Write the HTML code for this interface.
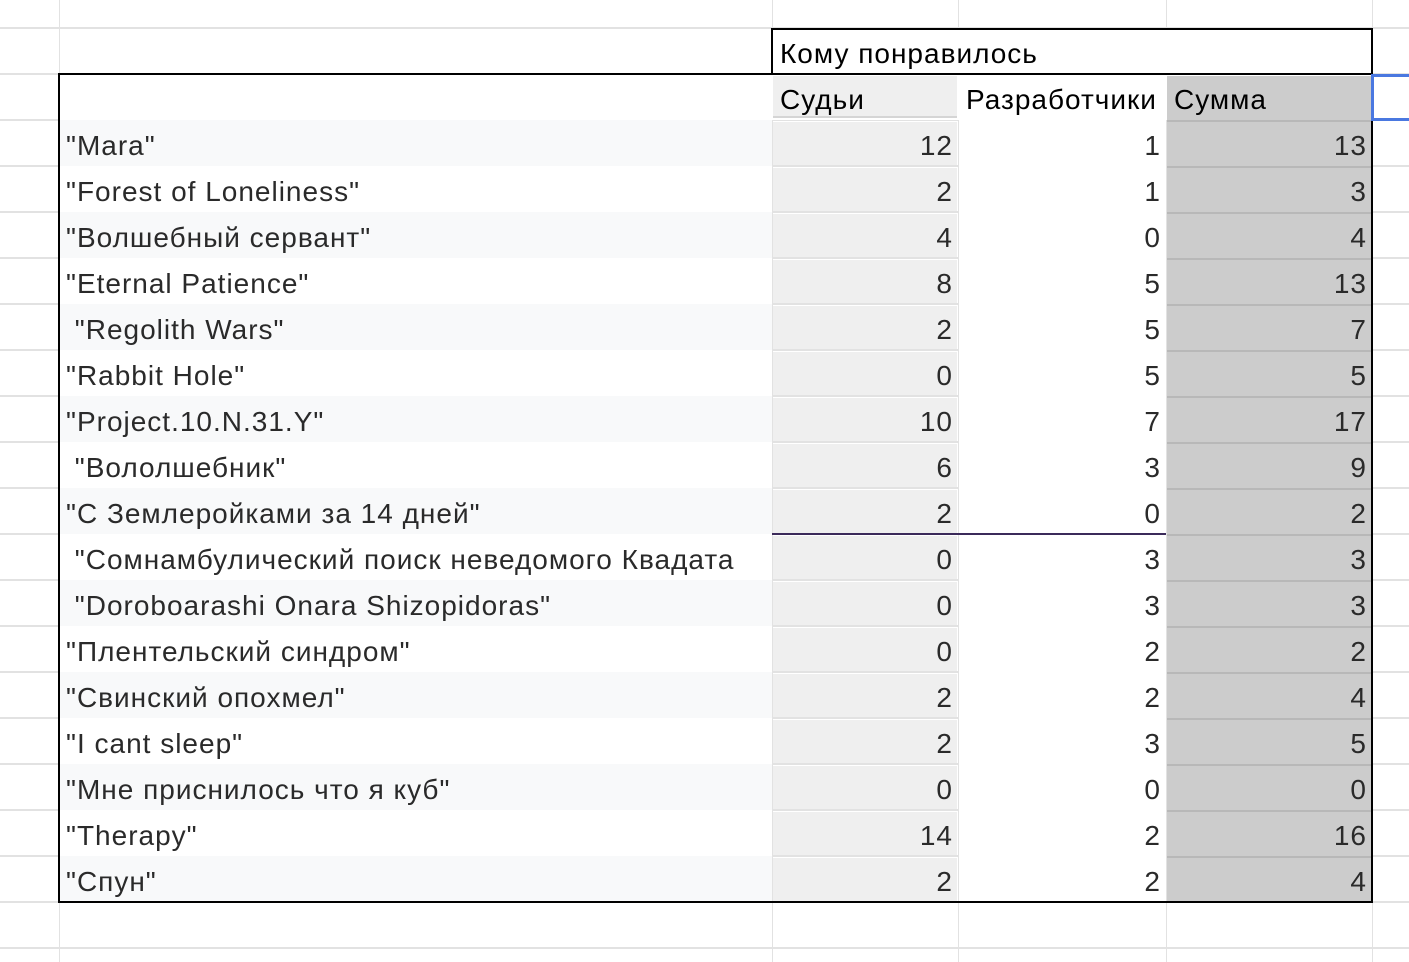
<!DOCTYPE html>
<html><head><meta charset="utf-8"><style>
body{margin:0;width:1409px;height:962px;background:#fff;position:relative;overflow:hidden;font-family:"Liberation Sans","DejaVu Sans",sans-serif;}
div{position:absolute;box-sizing:border-box}
.t{font-size:28px;letter-spacing:1px;line-height:46px;white-space:pre;color:#2a2a2a}
.r{text-align:right}
</style></head><body>
<div style="left:59px;top:0;width:1px;height:962px;background:#e2e2e2"></div>
<div style="left:772px;top:0;width:1px;height:962px;background:#e2e2e2"></div>
<div style="left:958px;top:0;width:1px;height:962px;background:#e2e2e2"></div>
<div style="left:1166px;top:0;width:1px;height:962px;background:#e2e2e2"></div>
<div style="left:1372px;top:0;width:1px;height:962px;background:#e2e2e2"></div>
<div id="g"></div>
<script>
let h='';
for(let y=28;y<962;y+=46)h+=`<div style="left:0;top:${y-1}px;width:1409px;height:2px;background:#e2e2e2"></div>`;
const d=[["\"Mara\"",12,1,13],["\"Forest of Loneliness\"",2,1,3],["\"Волшебный сервант\"",4,0,4],["\"Eternal Patience\"",8,5,13],[" \"Regolith Wars\"",2,5,7],["\"Rabbit Hole\"",0,5,5],["\"Project.10.N.31.Y\"",10,7,17],[" \"Вололшебник\"",6,3,9],["\"С Землеройками за 14 дней\"",2,0,2],[" \"Сомнамбулический поиск неведомого Квадата",0,3,3],[" \"Doroboarashi Onara Shizopidoras\"",0,3,3],["\"Плентельский синдром\"",0,2,2],["\"Свинский опохмел\"",2,2,4],["\"I cant sleep\"",2,3,5],["\"Мне приснилось что я куб\"",0,0,0],["\"Therapy\"",14,2,16],["\"Спун\"",2,2,4]];
h+=`<div style="left:60px;top:74px;width:1312px;height:46px;background:#fff"></div>`;
h+=`<div style="left:773px;top:76px;width:184px;height:42px;background:#efefef;border-bottom:2px solid #d5d5d5"></div>`;
h+=`<div style="left:1167px;top:76px;width:205px;height:44px;background:#cccccc"></div>`;
h+=`<div class="t" style="left:780px;top:77px;color:#000">Судьи</div>`;
h+=`<div class="t" style="left:966px;top:77px;color:#000">Разработчики</div>`;
h+=`<div class="t" style="left:1174px;top:77px;color:#000">Сумма</div>`;
h+=`<div style="left:773px;top:29px;width:599px;height:44px;background:#fff"></div>`;
h+=`<div class="t" style="left:780px;top:31px;color:#000">Кому понравилось</div>`;
d.forEach((r,i)=>{const y=120+46*i;
h+=`<div style="left:60px;top:${y}px;width:712px;height:46px;background:${i%2==0?'#f8f9fa':'#fff'}"></div>`;
h+=`<div style="left:773px;top:${y+2}px;width:184px;height:43px;background:#efefef"></div>`;
h+=`<div style="left:959px;top:${y}px;width:207px;height:46px;background:#fff"></div>`;
h+=`<div style="left:1167px;top:${y}px;width:205px;height:46px;background:#cccccc;border-top:2px solid #b8b8b8"></div>`;
h+=`<div class="t" style="left:66px;top:${y+3}px;width:705px;overflow:hidden">${r[0]}</div>`;
h+=`<div class="t r" style="left:773px;width:180px;top:${y+3}px">${r[1]}</div>`;
h+=`<div class="t r" style="left:959px;width:202px;top:${y+3}px">${r[2]}</div>`;
h+=`<div class="t r" style="left:1167px;width:200px;top:${y+3}px">${r[3]}</div>`;
});
h+=`<div style="left:771px;top:28px;width:602px;height:47px;border:2px solid #000;border-bottom:none"></div>`;
h+=`<div style="left:58px;top:73px;width:1315px;height:830px;border:2px solid #000"></div>`;
h+=`<div style="left:772px;top:533px;width:394px;height:2px;background:#3b2a5a"></div>`;
h+=`<div style="left:1371px;top:74px;width:38px;height:47px;border:3px solid #4a78e0;border-right:none"></div>`;
document.getElementById('g').outerHTML=h;
</script>
</body></html>
